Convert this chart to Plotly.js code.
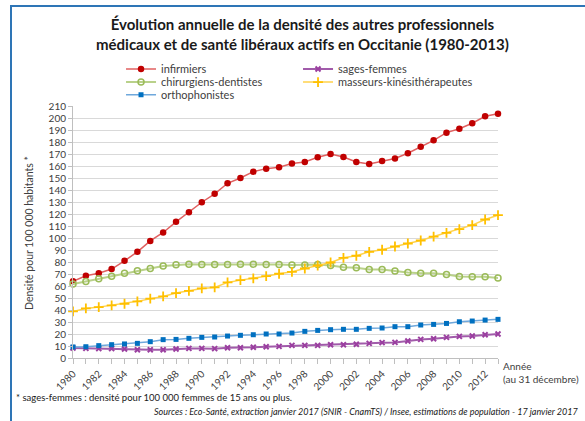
<!DOCTYPE html>
<html><head><meta charset="utf-8">
<script src="https://cdn.plot.ly/plotly-3.0.1.min.js"></script>
<style>
html,body{margin:0;padding:0;background:#fff;}
#wrap{position:relative;width:585px;height:421px;overflow:hidden;}
#frame{position:absolute;z-index:10;left:10px;top:5px;width:573px;height:430px;border-top:2px solid #2E75B6;border-left:2px solid #2E75B6;pointer-events:none;}
</style></head>
<body><div id="wrap"><div id="chart" style="width:585px;height:421px;"></div><div id="frame"></div></div>
<script>
const years = [1980,1981,1982,1983,1984,1985,1986,1987,1988,1989,1990,1991,1992,1993,1994,1995,1996,1997,1998,1999,2000,2001,2002,2003,2004,2005,2006,2007,2008,2009,2010,2011,2012,2013];
const infirmiers = [64,68.5,70.7,74.1,81,88.5,97.6,104.6,113.5,121.5,129.8,136.8,145.6,150,155.3,157.8,158.9,162,163.4,167.3,170,167.5,163.4,161.7,164.2,166.2,170.6,176.1,181.4,187.8,191.1,195.6,201.4,203.6];
const sagesFemmes = [8.3,8,7.8,7.8,7.5,6.9,6.9,6.9,7.5,8,8,7.8,8.6,8.6,8.9,9.4,9.7,10.5,10.5,10.5,11.1,11.1,11.4,12.2,12.8,13,14.1,15.5,16.1,17.2,18,18.3,19.4,20];
const chirurgiensDentistes = [61.6,63.8,66,68.2,70.7,72.7,74.6,76.6,77.7,78.2,77.9,77.9,77.9,78.2,78.2,77.9,77.9,77.4,77.4,77.9,77.1,75.7,75.2,73.8,73.8,72.4,71.3,70.7,70.7,69.6,68,67.7,67.7,66.6];
const masseursKine = [38.8,41.3,42.4,43.8,45.2,47.2,49.4,51.3,54.1,56,58,58.8,63,64.9,66.3,68.2,70.2,71.8,74.6,77.1,79.6,83.5,85.2,88.5,90.2,92.9,95.4,97.9,101.2,104.3,107.4,110.7,115.4,119];
const orthophonistes = [9.2,9.4,10.3,11.1,11.7,12.2,13.6,15.3,15.5,16.4,17.2,17.5,18.3,18.9,19.4,20,20,20.8,22.2,23,23.6,23.9,23.9,24.7,25,26.1,26.1,27.5,28,28.8,30.2,30.8,31.6,32.2];
const seriesNames = ["infirmiers","sages-femmes","chirurgiens-dentistes","masseurs-kinésithérapeutes","orthophonistes"];
const tickYears = years.filter(y => y % 2 === 0 && y <= 2012);

const F = "Lato, 'Open Sans', sans-serif";
function tr(name, y, lineColor, lineW, marker, legend){
  return {x: years, y: y, name: name, type:'scatter', mode:'lines+markers', cliponaxis:false,
    line:{color:lineColor, width:lineW}, marker: marker, legend: legend, hoverinfo:'skip'};
}
const data = [
  tr(seriesNames[0], infirmiers, '#E06060', 1.5, {symbol:'circle', size:6.5, color:'#C00000'}, 'legend'),
  tr(seriesNames[1], sagesFemmes, '#A15BAA', 2, {symbol:'x-thin', size:5, line:{color:'#9B3FA0', width:2}, color:'#9B3FA0'}, 'legend'),
  tr(seriesNames[2], chirurgiensDentistes, '#B9D18A', 2, {symbol:'circle-open', size:6, line:{color:'#9BBB59', width:1.5}, color:'#9BBB59'}, 'legend2'),
  tr(seriesNames[3], masseursKine, '#FFD24D', 1.5, {symbol:'cross-thin', size:7, line:{color:'#FFC000', width:1.8}, color:'#FFC000'}, 'legend2'),
  tr(seriesNames[4], orthophonistes, '#6FA8DC', 1.5, {symbol:'square', size:5, color:'#0070C0'}, 'legend3')
];
function leg(y){
  return {orientation:'h', x:0.113, xanchor:'left', y:y, yanchor:'middle', itemwidth:30, entrywidth:132,
    font:{family:F, size:11, color:'#404040'}, bgcolor:'rgba(0,0,0,0)', tracegroupgap:0, itemclick:false};
}
const W = 425, H = 252, L = 73, T = 106;
const px = x => (x - L) / W;
const py = y => (T + H - y) / H;
const layout = {
  width:585, height:421, margin:{l:L, r:585-L-W, t:T, b:421-T-H},
  paper_bgcolor:'#fff', plot_bgcolor:'#fff', showlegend:true,
  legend: leg(1.147), legend2: leg(1.095), legend3: leg(1.045),
  xaxis:{range:[1980,2013], tickmode:'array', tickvals:tickYears, ticktext:tickYears.map(String), tickangle:-45,
    tickfont:{family:F, size:10, color:'#404040'}, showgrid:false, zeroline:false, showline:true, linecolor:'#BFBFBF', linewidth:1,
    ticks:'outside', ticklen:5, tickcolor:'#BFBFBF', minor:{dtick:1, tick0:1980, ticks:'outside', ticklen:5, tickcolor:'#BFBFBF', showgrid:false}},
  yaxis:{range:[0,210], dtick:10, tick0:0, tickfont:{family:F, size:10, color:'#404040'}, showgrid:true, gridcolor:'#D9D9D9', gridwidth:1,
    zeroline:false, showline:true, linecolor:'#BFBFBF', ticks:'outside', ticklen:4, tickcolor:'#BFBFBF'},
  annotations:[
    {text:'<b>Évolution annuelle de la densité des autres professionnels<br>médicaux et de santé libéraux actifs en Occitanie (1980-2013)</b>', xref:'paper', yref:'paper', x:px(302), y:py(13), xanchor:'center', yanchor:'top', align:'center', showarrow:false, font:{family:F, size:15, color:'#1a1a1a'}},
    {text:'Densité pour 100 000 habitants *', textangle:-90, xref:'paper', yref:'paper', x:px(29), y:py(233), xanchor:'center', yanchor:'middle', showarrow:false, font:{family:F, size:10.5, color:'#404040'}},
    {text:'Année<br>(au 31 décembre)', xref:'paper', yref:'paper', x:px(501), y:py(358), xanchor:'left', yanchor:'top', align:'left', showarrow:false, font:{family:F, size:10, color:'#404040'}},
    {text:'* sages-femmes : densité pour 100 000 femmes de 15 ans ou plus.', xref:'paper', yref:'paper', x:px(14), y:py(397), xanchor:'left', yanchor:'middle', showarrow:false, font:{family:F, size:9.5, color:'#1a1a1a'}},
    {text:'<i>Sources : Eco-Santé, extraction janvier 2017 (SNIR - CnamTS) / Insee, estimations de population - 17 janvier 2017</i>', xref:'paper', yref:'paper', x:px(580), y:py(411), xanchor:'right', yanchor:'middle', showarrow:false, font:{family:F, size:9, color:'#1a1a1a'}}
  ]
};
Plotly.newPlot('chart', data, layout, {displayModeBar:false, staticPlot:true});
</script></body></html>
